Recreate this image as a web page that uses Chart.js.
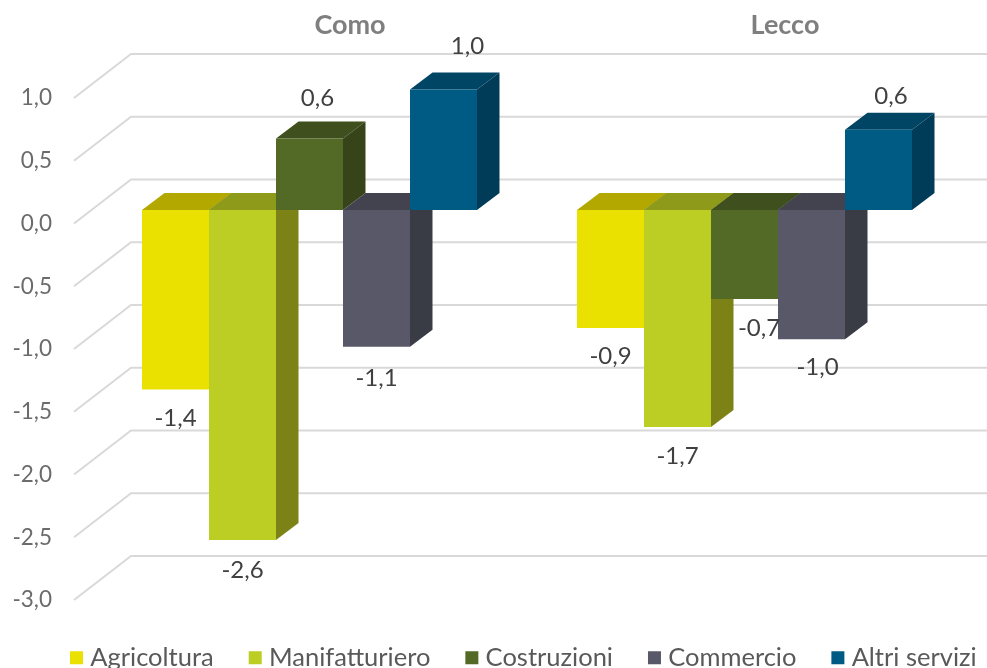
<!DOCTYPE html>
<html>
<head>
<meta charset="utf-8">
<style>html,body{margin:0;padding:0;background:#fff;overflow:hidden}canvas{display:block}</style>
<script src="https://cdn.jsdelivr.net/npm/chart.js@4"></script>
</head>
<body>
<canvas id="c" width="987" height="668"></canvas>
<script>
const categories = ['Como', 'Lecco'];
const yTickMin = -3;
const yTickMax = 1;
const agricoltura = [-1.43, -0.94];
const manifatturiero = [-2.63, -1.73];
const costruzioni = [0.57, -0.71];
const commercio = [-1.09, -1.03];
const altriServizi = [0.96, 0.64];
const seriesNames = ['Agricoltura', 'Manifatturiero', 'Costruzioni', 'Commercio', 'Altri servizi'];
const frontColors = ['#EBE100', '#BCCD24', '#526A26', '#585869', '#005B84'];
const topColors = ['#B2A800', '#8D9A1A', '#3F4F1D', '#43434F', '#004563'];
const sideColors = ['#8F8800', '#7C8215', '#374419', '#393B45', '#003C57'];

const FONT = 'Lato';
const wall = {dx: 57, dy: -44};
const barShift = {dx: 18, dy: -13.5};
const barDepth = {dx: 22.5, dy: -17};
// label nudges per series, per category
const nudgeX = [[0, 0], [0, 0], [8, 14.5], [0, 6], [24, 12.5]];
const nudgeY = [[29, 28], [30, 29], [-40, 29], [31, 28], [-43, -33]];

const fmt = v => v.toFixed(1).replace('.', ',');

function poly(ctx, pts, color) {
  ctx.fillStyle = color;
  ctx.beginPath();
  pts.forEach((p, i) => i ? ctx.lineTo(p[0], p[1]) : ctx.moveTo(p[0], p[1]));
  ctx.closePath();
  ctx.fill();
}

const box3d = {
  id: 'box3d',
  afterLayout(chart) {
    const x = chart.scales.x, y = chart.scales.yv, lg = chart.legend;
    y.top = 98; y.bottom = 600; y.height = 502; y.left = 0; y.right = 74; y.width = 74; y.configure();
    x.left = 74; x.right = 944; x.width = 870; x.top = 0; x.bottom = 51; x.height = 51; x.configure();
    chart.chartArea.left = 74; chart.chartArea.right = 944; chart.chartArea.top = 98; chart.chartArea.bottom = 600;
    lg.left = 35; lg.right = 1100; lg.top = 604.5;
  },
  beforeDatasetDraw() { return false; },
  beforeDatasetsDraw(chart) {
    const ctx = chart.ctx, y = chart.scales.yv, x = chart.scales.x;
    ctx.save();
    ctx.strokeStyle = '#D9D9D9';
    ctx.lineWidth = 2;
    y.ticks.forEach(t => {
      const py = y.getPixelForValue(t.value);
      ctx.beginPath();
      ctx.moveTo(x.left, py);
      ctx.lineTo(x.left + wall.dx, py + wall.dy);
      ctx.lineTo(987, py + wall.dy);
      ctx.stroke();
    });
    ctx.restore();
    ctx.save();
    ctx.translate(barShift.dx, barShift.dy);
    const dx = barDepth.dx, dy = barDepth.dy;
    chart.data.datasets.forEach((ds, i) => {
      const meta = chart.getDatasetMeta(i);
      meta.data.forEach(el => {
        const p = el.getProps(['x', 'y', 'base', 'width']);
        const l = p.x - p.width / 2, r = p.x + p.width / 2;
        const t = Math.min(p.y, p.base), b = Math.max(p.y, p.base);
        poly(ctx, [[l, t], [l + dx, t + dy], [r + dx, t + dy], [r, t]], topColors[i]);
        poly(ctx, [[r, t], [r + dx, t + dy], [r + dx, b + dy], [r, b]], sideColors[i]);
        el.draw(ctx);
      });
    });
    ctx.restore();
  },
  afterDatasetsDraw(chart) {
    const ctx = chart.ctx;
    ctx.save();
    ctx.font = '24px ' + FONT;
    ctx.fillStyle = '#404040';
    ctx.textAlign = 'center';
    ctx.textBaseline = 'middle';
    chart.data.datasets.forEach((ds, i) => {
      chart.getDatasetMeta(i).data.forEach((el, j) => {
        const p = el.getProps(['x', 'y']);
        ctx.fillText(fmt(ds.data[j]), p.x + barShift.dx + nudgeX[i][j], p.y + barShift.dy + nudgeY[i][j]);
      });
    });
    ctx.restore();
  }
};

new Chart(document.getElementById('c'), {
  type: 'bar',
  data: {
    labels: categories,
    datasets: [agricoltura, manifatturiero, costruzioni, commercio, altriServizi].map((d, i) => ({
      label: seriesNames[i],
      data: d,
      yAxisID: 'yv',
      backgroundColor: frontColors[i],
      borderWidth: 0,
      barPercentage: 1,
      categoryPercentage: 335 / 435
    }))
  },
  options: {
    responsive: false,
    animation: false,
    devicePixelRatio: 1,
    plugins: {
      tooltip: {enabled: false},
      legend: {
        position: 'bottom',
        align: 'start',
        labels: {
          usePointStyle: true,
          pointStyle: 'rect',
          boxWidth: 2,
          boxHeight: 13,
          padding: 40.5,
          color: '#595959',
          font: {family: FONT, size: 25.5}
        }
      }
    },
    scales: {
      x: {
        position: 'top',
        grid: {display: false},
        border: {display: false},
        ticks: {
          labelOffset: 58.5,
          maxRotation: 0,
          padding: 2,
          color: '#7F7F7F',
          font: {family: FONT, size: 27, weight: 'bold'}
        }
      },
      yv: {
        position: 'left',
        min: yTickMin,
        max: yTickMax,
        grid: {display: false},
        border: {display: false},
        ticks: {
          stepSize: 0.5,
          padding: 14,
          color: '#6B6B6B',
          font: {family: FONT, size: 22.5},
          callback: v => fmt(v)
        }
      }
    }
  },
  plugins: [box3d]
});
</script>
</body>
</html>
